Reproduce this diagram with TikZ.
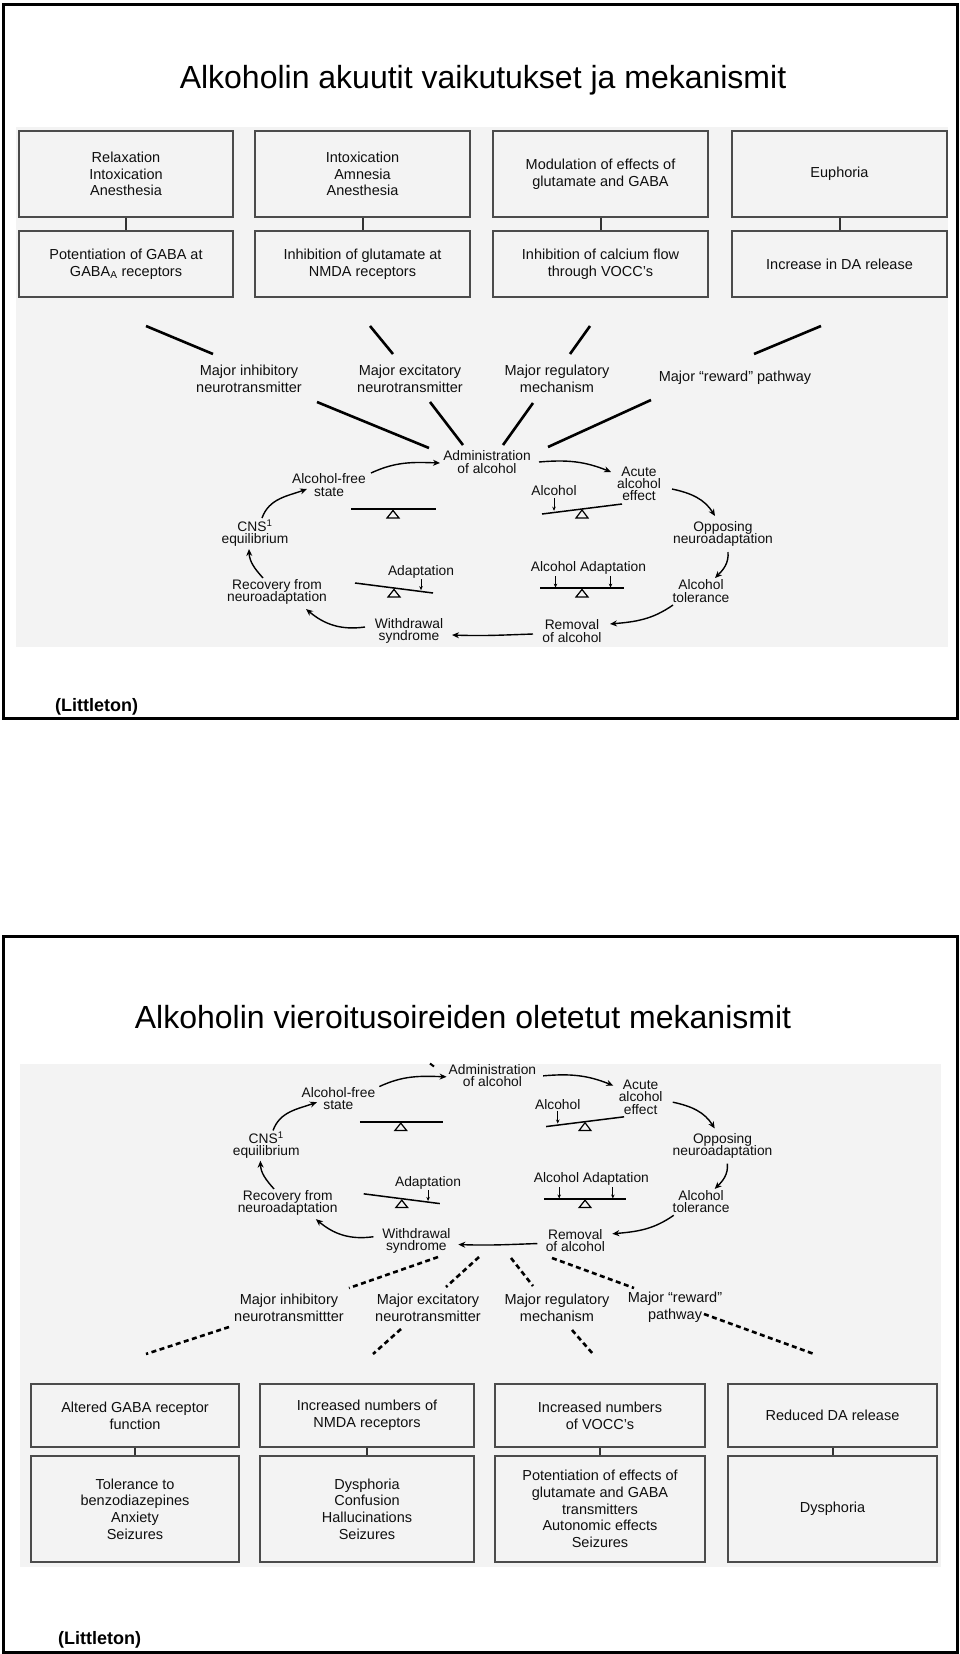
\documentclass[tikz,border=0pt]{standalone}
\usepackage{fontspec}
\setmainfont{Liberation Sans}
\usetikzlibrary{arrows.meta}
\lineskiplimit=-100pt
\definecolor{panel}{RGB}{243,243,243}
\definecolor{txt}{RGB}{15,15,15}
\definecolor{boxline}{RGB}{75,75,75}
\tikzset{
  every node/.style={text=txt},
  frame/.style={draw=black, line width=3pt},
  boxnode/.style={draw=boxline, line width=1.5pt, fill=panel, align=center,
    font={\fontsize{14.5}{16.7}\selectfont}, inner sep=0pt},
  boxlink/.style={draw=black!80, line width=2pt},
  ctext/.style={align=center, inner sep=0pt,
    font={\fontsize{13.8}{12.3}\selectfont}},
  majtext/.style={align=center, inner sep=0pt, font={\fontsize{14.5}{16.7}\selectfont}},
  carrow/.style={line width=1.4pt, -{Stealth[length=7pt,width=6pt]}},
  sarrow/.style={line width=1pt, -{Stealth[length=4pt,width=3.5pt]}},
  beam/.style={line width=2.2pt},
  tbeam/.style={line width=1.5pt},
  fulcrum/.style={line width=1.2pt, line join=miter},
  spoke/.style={line width=2.6pt},
  dspoke/.style={line width=2.6pt, dash pattern=on 5pt off 3.5pt},
  titletext/.style={font={\fontsize{32}{38}\selectfont}, text=black, inner sep=0pt, anchor=base},
  cite/.style={font={\bfseries\fontsize{18}{22}\selectfont}, text=black, inner sep=0pt, anchor=base west},
}
\newcommand\cyclediag[1]{%
  \node[ctext] (#1admin) at (487,-462) {Administration\\of alcohol};
  \node[ctext] (#1free) at (329,-485) {Alcohol-free\\state};
  \node[ctext] (#1acute) at (639,-484) {Acute\\alcohol\\effect};
  \node[ctext] (#1cns) at (255,-533) {CNS\textsuperscript{1}\\equilibrium};
  \node[ctext] (#1opp) at (723,-534) {Opposing\\neuroadaptation};
  \node[ctext] (#1rec) at (277,-592) {Recovery from\\neuroadaptation};
  \node[ctext] (#1tol) at (701,-591) {Alcohol\\tolerance};
  \node[ctext] (#1wd) at (409,-631) {Withdrawal\\syndrome};
  \node[ctext] (#1rem) at (572,-631) {Removal\\of alcohol};
  \node[ctext] (#1alc) at (554,-491) {Alcohol};
  \node[ctext] (#1adap) at (421,-572) {Adaptation};
  \node[ctext] (#1alcad) at (588.5,-568) {Alcohol Adaptation};
  \draw[beam] (351,-509) -- (436,-509);
  \draw[fulcrum] (393,-510.5) -- (387,-518) -- (399,-518) -- cycle;
  \draw[tbeam] (542,-514) -- (622,-504);
  \draw[fulcrum] (582,-510) -- (576,-518) -- (588,-518) -- cycle;
  \draw[tbeam] (355,-583) -- (433,-593);
  \draw[fulcrum] (394,-589.5) -- (388,-597) -- (400,-597) -- cycle;
  \draw[beam] (540,-588) -- (624,-588);
  \draw[fulcrum] (582,-589.5) -- (576,-597) -- (588,-597) -- cycle;
  \draw[sarrow] ([yshift=-1.5pt]#1alc.south) -- ++(0,-13);
  \draw[sarrow] ([yshift=-0.5pt]#1adap.south) -- ++(0,-11);
  \draw[sarrow] ([shift={(-33,-1.5)}]#1alcad.south) -- ++(0,-11.5);
  \draw[sarrow] ([shift={(22,-1.5)}]#1alcad.south) -- ++(0,-11.5);
  \draw[carrow] ([shift={(42,12)}]#1free.center) to[out=25,in=178] ([shift={(-47,-1)}]#1admin.center);
  \draw[carrow] ([shift={(52,0)}]#1admin.center) to[out=5,in=158] ([shift={(-28,12)}]#1acute.center);
  \draw[carrow] ([shift={(33,-5)}]#1acute.center) to[out=-12,in=122] ([shift={(-8,18)}]#1opp.center);
  \draw[carrow] ([shift={(5,-18)}]#1opp.center) to[out=-85,in=45] ([shift={(14,13)}]#1tol.center);
  \draw[carrow] ([shift={(-28,-14)}]#1tol.center) to[out=215,in=5] ([shift={(38,7)}]#1rem.center);
  \draw[carrow] ([shift={(-39,-3)}]#1rem.center) to[out=182,in=-2] ([shift={(43,-4)}]#1wd.center);
  \draw[carrow] ([shift={(-44,4)}]#1wd.center) to[out=188,in=-40] ([shift={(29,-17)}]#1rec.center);
  \draw[carrow] ([shift={(-14,14)}]#1rec.center) to[out=132,in=-88] ([shift={(-6,-16)}]#1cns.center);
  \draw[carrow] ([shift={(7,15)}]#1cns.center) to[out=70,in=200] ([shift={(-22,-4)}]#1free.center);
}
\begin{document}
\begin{tikzpicture}[x=1pt,y=1pt]
\useasboundingbox (0,0) rectangle (960,-1654);
\fill[white] (0,0) rectangle (960,-1654);

\fill[panel] (16,-127) rectangle (948,-647);
\draw[frame] (3,-4.5) rectangle (957,-718);
\node[titletext] (title1) at (483,-88.5) {Alkoholin akuutit vaikutukset ja mekanismit};
\node[cite] (cite1) at (55,-711) {(Littleton)};

\node[boxnode, minimum width=214pt, minimum height=86pt] (t1) at (126,-174) {Relaxation\\Intoxication\\Anesthesia};
\node[boxnode, minimum width=215pt, minimum height=86pt] (t2) at (362.5,-174) {Intoxication\\Amnesia\\Anesthesia};
\node[boxnode, minimum width=215pt, minimum height=86pt] (t3) at (600.5,-174) {Modulation of effects of\\glutamate and GABA};
\node[boxnode, minimum width=215pt, minimum height=86pt] (t4) at (839.5,-174) {Euphoria};
\node[boxnode, minimum width=214pt, minimum height=66pt] (r1) at (126,-264) {Potentiation of GABA at\\GABA\textsubscript{A} receptors};
\node[boxnode, minimum width=215pt, minimum height=66pt] (r2) at (362.5,-264) {Inhibition of glutamate at\\NMDA receptors};
\node[boxnode, minimum width=215pt, minimum height=66pt] (r3) at (600.5,-264) {Inhibition of calcium flow\\through VOCC’s};
\node[boxnode, minimum width=215pt, minimum height=66pt] (r4) at (839.5,-264) {Increase in DA release};
\draw[boxlink] (t1.south) -- (r1.north);
\draw[boxlink] (t2.south) -- (r2.north);
\draw[boxlink] (t3.south) -- (r3.north);
\draw[boxlink] (t4.south) -- (r4.north);

\node[majtext] (tm1) at (249,-378.5) {Major inhibitory\\neurotransmitter};
\node[majtext] (tm2) at (410,-378.5) {Major excitatory\\neurotransmitter};
\node[majtext] (tm3) at (557,-378.5) {Major regulatory\\mechanism};
\node[majtext] (tm4) at (735,-378) {Major “reward” pathway};

\coordinate (u1a) at (146,-326); \coordinate (u1b) at (213,-354);
\coordinate (u2a) at (370,-326); \coordinate (u2b) at (393,-354);
\coordinate (u3a) at (590,-326); \coordinate (u3b) at (570,-354);
\coordinate (u4a) at (821,-326); \coordinate (u4b) at (754,-354);
\draw[spoke] (u1a) -- (u1b);
\draw[spoke] (u2a) -- (u2b);
\draw[spoke] (u3a) -- (u3b);
\draw[spoke] (u4a) -- (u4b);
\coordinate (w1a) at (317,-402); \coordinate (w1b) at (429,-448);
\coordinate (w2a) at (430,-402); \coordinate (w2b) at (463,-445);
\coordinate (w3a) at (533,-403); \coordinate (w3b) at (503,-445);
\coordinate (w4a) at (651,-400); \coordinate (w4b) at (548,-447);
\draw[spoke] (w1a) -- (w1b);
\draw[spoke] (w2a) -- (w2b);
\draw[spoke] (w3a) -- (w3b);
\draw[spoke] (w4a) -- (w4b);

\cyclediag{T}

\fill[panel] (20,-1064) rectangle (941,-1567);
\draw[frame] (3,-936.5) rectangle (957,-1652);
\node[titletext] (title2) at (463,-1028.3) {Alkoholin vieroitusoireiden oletetut mekanismit};
\node[cite] (cite2) at (58,-1644.5) {(Littleton)};

\begin{scope}[shift={(17.6,-625.4)},scale=0.975]
\cyclediag{B}
\end{scope}
\draw[line width=2pt] (430,-1063.5) -- (434,-1066.5);

\node[majtext] (bm1) at (289,-1307.5) {Major inhibitory\\neurotransmittter};
\node[majtext] (bm2) at (428,-1307.5) {Major excitatory\\neurotransmitter};
\node[majtext] (bm3) at (557,-1307.5) {Major regulatory\\mechanism};
\node[majtext] (bm4) at (675,-1307.5) {Major “reward”\\pathway};

\coordinate (d1a) at (438,-1257); \coordinate (d1b) at (349,-1288);
\coordinate (d2a) at (479,-1257); \coordinate (d2b) at (446,-1287);
\coordinate (d3a) at (511,-1258); \coordinate (d3b) at (533,-1286);
\coordinate (d4a) at (552,-1258); \coordinate (d4b) at (634,-1288);
\draw[dspoke] (d1a) -- (d1b);
\draw[dspoke] (d2a) -- (d2b);
\draw[dspoke] (d3a) -- (d3b);
\draw[dspoke] (d4a) -- (d4b);
\coordinate (e1a) at (229,-1327); \coordinate (e1b) at (146,-1354);
\coordinate (e2a) at (401,-1329); \coordinate (e2b) at (373,-1354);
\coordinate (e3a) at (572,-1330); \coordinate (e3b) at (593,-1354);
\coordinate (e4a) at (704,-1314); \coordinate (e4b) at (814,-1354);
\draw[dspoke] (e1a) -- (e1b);
\draw[dspoke] (e2a) -- (e2b);
\draw[dspoke] (e3a) -- (e3b);
\draw[dspoke] (e4a) -- (e4b);

\node[boxnode, minimum width=208pt, minimum height=63pt] (b1) at (135,-1415.5) {Altered GABA receptor\\function};
\node[boxnode, minimum width=214pt, minimum height=63pt] (b2) at (367,-1415.5) {Increased numbers of\\NMDA receptors};
\node[boxnode, minimum width=210pt, minimum height=63pt] (b3) at (600,-1415.5) {Increased numbers\\of VOCC’s};
\node[boxnode, minimum width=209pt, minimum height=63pt] (b4) at (832.5,-1415.5) {Reduced DA release};
\node[boxnode, minimum width=208pt, minimum height=106pt] (c1) at (135,-1509) {Tolerance to\\benzodiazepines\\Anxiety\\Seizures};
\node[boxnode, minimum width=214pt, minimum height=106pt] (c2) at (367,-1509) {Dysphoria\\Confusion\\Hallucinations\\Seizures};
\node[boxnode, minimum width=210pt, minimum height=106pt] (c3) at (600,-1509) {Potentiation of effects of\\glutamate and GABA\\transmitters\\Autonomic effects\\Seizures};
\node[boxnode, minimum width=209pt, minimum height=106pt] (c4) at (832.5,-1509) {Dysphoria};
\draw[boxlink] (b1.south) -- (c1.north);
\draw[boxlink] (b2.south) -- (c2.north);
\draw[boxlink] (b3.south) -- (c3.north);
\draw[boxlink] (b4.south) -- (c4.north);
\end{tikzpicture}
\end{document}
